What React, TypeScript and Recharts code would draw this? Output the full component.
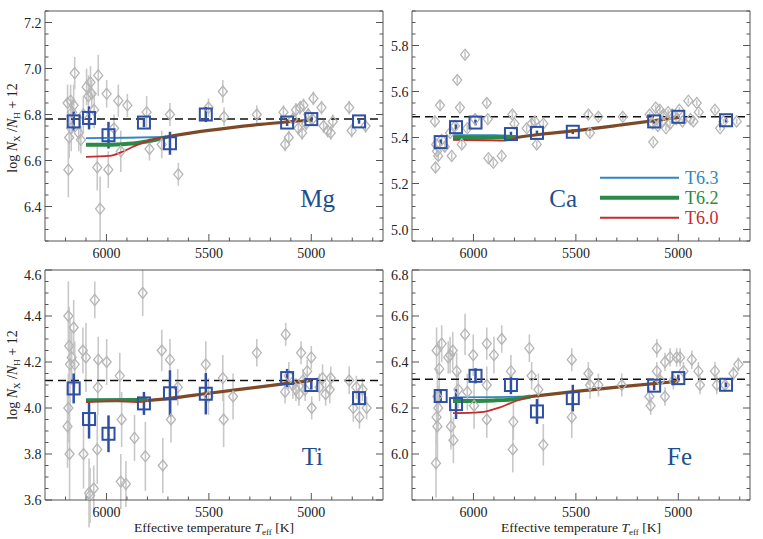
import React from "react";
import {
  ComposedChart,
  Scatter,
  Line,
  XAxis,
  YAxis,
  ErrorBar,
  ReferenceLine,
} from "recharts";

const SERIF = "Liberation Serif, Times New Roman, serif";
const INK = "#222";
const FRAME = "#555";
const STAR = "#b5b5b5";
const STAR_ERR = "#c8c8c8";
const MEAN = "#2f4fa3";
const C63 = "#2f86c0";
const C62 = "#2a8a48";
const C60 = "#c42b2b";
const CMIX = "#7d4a28";
const LABEL = "#1d4f8e";

const X_DOMAIN: [number, number] = [4650, 6300];
const xTicks = [6000, 5500, 5000];

// mean Teff of the stellar groups (blue squares)
const clusterTeff = [6160, 6085, 5990, 5817, 5690, 5515, 5118, 5000, 4767];

// ---- Mg ----
const mgTicks = [6.4, 6.6, 6.8, 7.0, 7.2];
const mgSolar = 6.78;
const mgMean = [6.77, 6.785, 6.71, 6.765, 6.675, 6.8, 6.765, 6.78, 6.77];
const mgMeanErr = [0.043, 0.05, 0.058, 0.02, 0.05, 0.033, 0.015, 0.012, 0.01];
const mgStars = [
  [6190, 6.85, 0.08], [6182, 6.7, 0.09], [6186, 6.56, 0.12], [6175, 6.86, 0.07],
  [6168, 6.81, 0.06], [6172, 6.74, 0.1], [6155, 6.98, 0.07], [6160, 6.84, 0.09],
  [6135, 6.72, 0.08], [6125, 6.69, 0.06], [6113, 6.8, 0.08], [6097, 6.92, 0.08],
  [6088, 6.88, 0.09], [6078, 6.94, 0.07], [6072, 6.89, 0.06], [6060, 6.82, 0.08],
  [6040, 6.97, 0.09], [6045, 6.57, 0.1], [6031, 6.39, 0.14], [5999, 6.89, 0.06],
  [5991, 6.56, 0.08], [5963, 6.74, 0.06], [5942, 6.86, 0.07], [5930, 6.64, 0.09],
  [5898, 6.84, 0.05], [5804, 6.81, 0.07], [5790, 6.65, 0.05], [5730, 6.67, 0.06],
  [5690, 6.8, 0.05], [5649, 6.54, 0.05], [5502, 6.83, 0.04], [5432, 6.9, 0.05],
  [5426, 6.79, 0.04], [5266, 6.8, 0.04], [5136, 6.81, 0.03], [5128, 6.67, 0.03],
  [5110, 6.7, 0.03], [5090, 6.78, 0.03], [5075, 6.82, 0.03], [5063, 6.74, 0.03],
  [5055, 6.83, 0.03], [5045, 6.72, 0.03], [5038, 6.84, 0.03], [5025, 6.76, 0.03],
  [5015, 6.8, 0.03], [4990, 6.87, 0.03], [4995, 6.78, 0.03], [4950, 6.83, 0.03],
  [4940, 6.75, 0.03], [4920, 6.73, 0.03], [4905, 6.72, 0.03], [4895, 6.77, 0.03],
  [4815, 6.83, 0.03], [4803, 6.73, 0.03], [4735, 6.75, 0.03],
];
const mgT63 = [[6100, 6.697], [5900, 6.699], [5705, 6.703]];
const mgT62 = [[6100, 6.668], [5950, 6.67], [5850, 6.676], [5760, 6.69], [5705, 6.703]];
const mgT60 = [[6100, 6.616], [5985, 6.62], [5930, 6.635], [5870, 6.66], [5787, 6.689], [5705, 6.703]];
const mgCool = [[5705, 6.703], [5500, 6.731], [5250, 6.757], [5000, 6.776]];

// ---- Ca ----
const caTicks = [5.0, 5.2, 5.4, 5.6, 5.8];
const caSolar = 5.49;
const caMean = [5.38, 5.445, 5.465, 5.415, 5.42, 5.425, 5.47, 5.49, 5.475];
const caMeanErr = [0.012, 0.012, 0.012, 0.01, 0.01, 0.01, 0.01, 0.01, 0.01];
const caStars = [
  [6188, 5.47, 0.02], [6182, 5.37, 0.02], [6178, 5.34, 0.02], [6172, 5.32, 0.02],
  [6185, 5.27, 0.02], [6163, 5.54, 0.02], [6155, 5.39, 0.02], [6140, 5.36, 0.02],
  [6114, 5.42, 0.015], [6106, 5.32, 0.015], [6090, 5.45, 0.015], [6079, 5.65, 0.015],
  [6066, 5.53, 0.015], [6057, 5.37, 0.015], [6041, 5.76, 0.015], [6030, 5.44, 0.015],
  [5992, 5.48, 0.015], [5935, 5.55, 0.015], [5930, 5.48, 0.015], [5927, 5.31, 0.015],
  [5903, 5.29, 0.015], [5862, 5.32, 0.015], [5810, 5.5, 0.015], [5800, 5.46, 0.015],
  [5740, 5.44, 0.015], [5716, 5.46, 0.015], [5700, 5.47, 0.015], [5691, 5.37, 0.015],
  [5659, 5.46, 0.015], [5439, 5.5, 0.015], [5431, 5.42, 0.015], [5390, 5.49, 0.015],
  [5271, 5.49, 0.015], [5140, 5.5, 0.012], [5125, 5.46, 0.012], [5122, 5.38, 0.012],
  [5110, 5.53, 0.012], [5100, 5.45, 0.012], [5090, 5.52, 0.012], [5080, 5.47, 0.012],
  [5073, 5.5, 0.012], [5060, 5.44, 0.012], [5050, 5.51, 0.012], [5040, 5.46, 0.012],
  [5030, 5.5, 0.012], [5010, 5.48, 0.012], [4995, 5.52, 0.012], [4980, 5.47, 0.012],
  [4951, 5.56, 0.012], [4940, 5.48, 0.012], [4926, 5.47, 0.012], [4910, 5.55, 0.012],
  [4900, 5.51, 0.012], [4821, 5.52, 0.012], [4796, 5.44, 0.012], [4780, 5.47, 0.012],
  [4715, 5.47, 0.012],
];
const caT63 = [[6100, 5.41], [5900, 5.41], [5790, 5.406]];
const caT62 = [[6100, 5.398], [5900, 5.4], [5790, 5.401]];
const caT60 = [[6100, 5.39], [5950, 5.388], [5850, 5.386], [5790, 5.398]];
const caCool = [[5790, 5.4], [5690, 5.412], [5500, 5.43], [5250, 5.458], [5000, 5.487]];

// ---- Ti ----
const tiTicks = [3.6, 3.8, 4.0, 4.2, 4.4, 4.6];
const tiSolar = 4.12;
const tiMean = [4.085, 3.952, 3.888, 4.02, 4.064, 4.062, 4.13, 4.1, 4.043];
const tiMeanErr = [0.065, 0.085, 0.08, 0.05, 0.1, 0.09, 0.04, 0.02, 0.03];
const tiStars = [
  [6186, 4.4, 0.15], [6182, 4.27, 0.17], [6178, 4.19, 0.2], [6186, 4.0, 0.15],
  [6190, 3.92, 0.18], [6180, 3.8, 0.2], [6170, 4.22, 0.12], [6160, 4.35, 0.12],
  [6155, 4.19, 0.1], [6115, 4.25, 0.1], [6100, 4.22, 0.15], [6112, 3.8, 0.15],
  [6085, 3.63, 0.15], [6080, 3.62, 0.12], [6062, 3.65, 0.1], [6057, 4.47, 0.08],
  [6040, 4.21, 0.1], [6042, 4.09, 0.12], [6045, 3.82, 0.15], [5999, 4.2, 0.1],
  [5935, 4.14, 0.1], [5926, 3.95, 0.12], [5930, 3.68, 0.12], [5905, 3.67, 0.1],
  [5863, 3.87, 0.1], [5823, 4.5, 0.1], [5810, 3.79, 0.15], [5730, 4.25, 0.09],
  [5725, 3.75, 0.12], [5690, 4.21, 0.09], [5685, 3.95, 0.1], [5652, 4.09, 0.08],
  [5515, 4.19, 0.1], [5502, 4.05, 0.08], [5432, 4.13, 0.1], [5428, 3.95, 0.12],
  [5382, 4.05, 0.1], [5266, 4.24, 0.06], [5125, 4.32, 0.05], [5128, 4.07, 0.05],
  [5110, 4.14, 0.06], [5090, 4.1, 0.06], [5075, 4.08, 0.05], [5060, 4.06, 0.05],
  [5050, 4.24, 0.05], [5040, 4.12, 0.05], [5030, 4.08, 0.05], [5020, 4.16, 0.05],
  [5000, 4.22, 0.05], [4998, 4.0, 0.05], [4960, 4.09, 0.06], [4945, 4.13, 0.06],
  [4930, 4.06, 0.05], [4910, 4.08, 0.06], [4905, 4.13, 0.05], [4815, 4.12, 0.06],
  [4795, 4.0, 0.06], [4780, 4.09, 0.05], [4765, 3.96, 0.05], [4750, 4.08, 0.05],
  [4730, 4.0, 0.05],
];
const tiT63 = [[6100, 4.037], [5950, 4.038], [5800, 4.04]];
const tiT62 = [[6100, 4.033], [5950, 4.034], [5800, 4.036]];
const tiT60 = [[6100, 4.026], [5950, 4.03], [5850, 4.026], [5800, 4.03]];
const tiCool = [[5800, 4.032], [5690, 4.042], [5500, 4.064], [5250, 4.092], [5000, 4.12]];

// ---- Fe ----
const feTicks = [6.0, 6.2, 6.4, 6.6, 6.8];
const feSolar = 6.325;
const feMean = [6.252, 6.217, 6.34, 6.3, 6.185, 6.243, 6.297, 6.33, 6.301];
const feMeanErr = [0.03, 0.065, 0.033, 0.04, 0.054, 0.058, 0.02, 0.015, 0.01];
const feStars = [
  [6180, 6.45, 0.1], [6167, 6.37, 0.12], [6155, 6.48, 0.08], [6176, 6.25, 0.12],
  [6180, 6.16, 0.12], [6176, 6.12, 0.15], [6183, 5.96, 0.15], [6172, 6.2, 0.1],
  [6123, 6.42, 0.07], [6114, 6.43, 0.08], [6101, 6.45, 0.08], [6110, 6.12, 0.1],
  [6098, 6.06, 0.1], [6082, 6.36, 0.08], [6074, 6.28, 0.08], [6041, 6.52, 0.09],
  [6030, 6.27, 0.08], [6001, 6.43, 0.09], [5997, 6.21, 0.1], [5935, 6.48, 0.07],
  [5935, 6.3, 0.08], [5935, 6.15, 0.08], [5900, 6.43, 0.08], [5862, 6.5, 0.06],
  [5817, 6.36, 0.07], [5808, 6.02, 0.1], [5805, 6.14, 0.08], [5727, 6.46, 0.06],
  [5716, 6.34, 0.06], [5683, 6.28, 0.07], [5659, 6.04, 0.09], [5520, 6.41, 0.05],
  [5520, 6.16, 0.09], [5439, 6.35, 0.05], [5431, 6.3, 0.06], [5390, 6.3, 0.05],
  [5276, 6.3, 0.05], [5141, 6.25, 0.04], [5135, 6.21, 0.04], [5105, 6.46, 0.04],
  [5105, 6.36, 0.04], [5089, 6.32, 0.04], [5065, 6.25, 0.04], [5065, 6.4, 0.04],
  [5040, 6.42, 0.04], [5024, 6.32, 0.04], [5008, 6.42, 0.04], [4991, 6.42, 0.04],
  [4975, 6.36, 0.04], [4934, 6.41, 0.04], [4902, 6.36, 0.04], [4894, 6.3, 0.04],
  [4821, 6.36, 0.04], [4812, 6.3, 0.04], [4772, 6.3, 0.03], [4731, 6.35, 0.03],
  [4707, 6.39, 0.03],
];
const feT63 = [[6100, 6.246], [5900, 6.247], [5720, 6.25]];
const feT62 = [[6100, 6.23], [5900, 6.233], [5800, 6.238], [5720, 6.25]];
const feT60 = [[6100, 6.178], [6000, 6.18], [5950, 6.183], [5870, 6.203], [5805, 6.226], [5720, 6.25]];
const feCool = [[5720, 6.25], [5500, 6.272], [5250, 6.295], [5000, 6.316]];

const steps = (a: number, b: number, s: number) => {
  const out: number[] = [];
  for (let i = 0; a + i * s <= b + 1e-9; i++) out.push(Math.round((a + i * s) * 1000) / 1000);
  return out;
};
const xMinor = steps(4700, 6200, 100);
const has = (list: number[], v: number) => list.some((u) => Math.abs(u - v) < 1e-6);

const txt = { fontFamily: SERIF, fill: INK };

// tick renderer that draws inward box ticks (major / minor) and the labels on the labelled sides
const xTick = (side: "bottom" | "top") => (props: any) => {
  const { x, y, payload } = props;
  const v = payload.value as number;
  const major = has(xTicks, v);
  const dir = side === "bottom" ? -1 : 1;
  return (
    <g>
      <line x1={x} x2={x} y1={y} y2={y + dir * (major ? 7 : 3.5)} stroke={FRAME} />
      {side === "bottom" && major && (
        <text x={x} y={y + 17} textAnchor="middle" fontSize={14} style={txt} {...txt}>
          {v}
        </text>
      )}
    </g>
  );
};

const yTick = (side: "left" | "right", labels: number[], top: number) => (props: any) => {
  const { x, y, payload } = props;
  const v = payload.value as number;
  const major = has(labels, v);
  const dir = side === "left" ? 1 : -1;
  const shift = Math.abs(v - top) < 1e-6 ? 5 : 0;
  return (
    <g>
      <line x1={x} x2={x + dir * (major ? 7 : 3.5)} y1={y} y2={y} stroke={FRAME} />
      {side === "left" && major && (
        <text x={x - 3.5} y={y + 5 + shift} textAnchor="end" fontSize={14} style={txt} {...txt}>
          {v.toFixed(1)}
        </text>
      )}
    </g>
  );
};

const Diamond = (p: any) => {
  const { cx, cy } = p;
  if (cx == null || cy == null) return null;
  return (
    <polygon
      points={`${cx},${cy - 5.5} ${cx + 4.5},${cy} ${cx},${cy + 5.5} ${cx - 4.5},${cy}`}
      fill="none"
      stroke={STAR}
      strokeWidth={1.3}
    />
  );
};

const Square = (p: any) => {
  const { cx, cy } = p;
  if (cx == null || cy == null) return null;
  return <rect x={cx - 6} y={cy - 6} width={12} height={12} fill="none" stroke={MEAN} strokeWidth={2} />;
};

const YTitle = ({ x, y }: { x: number; y: number }) => (
  <text transform={`rotate(-90 ${x} ${y})`} x={x} y={y} textAnchor="middle" fontSize={14} style={txt} {...txt}>
    {"log "}
    <tspan fontStyle="italic">N</tspan>
    <tspan fontSize={9} dy={3}>X</tspan>
    <tspan dy={-3}>{" /"}</tspan>
    <tspan fontStyle="italic">N</tspan>
    <tspan fontSize={9} dy={3}>H</tspan>
    <tspan dy={-3}>{" + 12"}</tspan>
  </text>
);

const XTitle = ({ x, y }: { x: number; y: number }) => (
  <text x={x} y={y} textAnchor="middle" fontSize={13.5} style={txt} {...txt}>
    {"Effective temperature "}
    <tspan fontStyle="italic">T</tspan>
    <tspan fontSize={9} dy={3}>eff</tspan>
    <tspan dy={-3}>{" [K]"}</tspan>
  </text>
);

const Element = ({ x, y, name }: { x: number; y: number; name: string }) => (
  <text x={x} y={y} textAnchor="end" fontSize={25} style={{ fontFamily: SERIF }} fontFamily={SERIF} fill={LABEL}>
    {name}
  </text>
);

const ModelLegend = ({ x, y }: { x: number; y: number }) => {
  const rows = [
    { name: "T6.3", color: C63, w: 2 },
    { name: "T6.2", color: C62, w: 4 },
    { name: "T6.0", color: C60, w: 2 },
  ];
  return (
    <g>
      {rows.map((r, i) => (
        <g key={r.name}>
          <line x1={x} x2={x + 79} y1={y + i * 20} y2={y + i * 20} stroke={r.color} strokeWidth={r.w} />
          <text x={x + 85} y={y + i * 20 + 6} fontSize={18} style={{ fontFamily: SERIF }} fontFamily={SERIF} fill={r.color}>
            {r.name}
          </text>
        </g>
      ))}
    </g>
  );
};

type PanelProps = {
  left: number;
  top: number;
  width: number;
  height: number;
  yAxisWidth: number;
  marginTop: number;
  marginRight: number;
  xAxisHeight: number;
  yDomain: [number, number];
  yTicks: number[];
  stars: number[][];
  mean: number[];
  meanErr: number[];
  solar: number;
  t63: number[][];
  t62: number[][];
  t60: number[][];
  cool: number[][];
  children?: React.ReactNode;
};

function Panel(p: PanelProps) {
  const stars = p.stars.map(([t, v, e]) => ({ t, v, e }));
  const means = clusterTeff.map((t, i) => ({ t, v: p.mean[i], e: p.meanErr[i] }));
  const pts = (arr: number[][]) => arr.map(([t, v]) => ({ t, v }));
  const yMinor = steps(p.yDomain[0], p.yDomain[1], 0.05);
  const model = (data: number[][], color: string, w: number) => (
    <Line
      data={pts(data)}
      dataKey="v"
      type="monotone"
      stroke={color}
      strokeWidth={w}
      dot={false}
      activeDot={false}
      isAnimationActive={false}
    />
  );
  return (
    <div style={{ position: "absolute", left: p.left, top: p.top }}>
      <ComposedChart
        width={p.width}
        height={p.height}
        margin={{ top: p.marginTop, right: p.marginRight, bottom: 0, left: 0 }}
      >
        <XAxis
          dataKey="t"
          type="number"
          domain={X_DOMAIN}
          reversed
          allowDataOverflow
          ticks={xMinor}
          interval={0}
          tickLine={false}
          tickSize={0}
          tickMargin={0}
          stroke={FRAME}
          height={p.xAxisHeight}
          tick={xTick("bottom")}
        />
        <YAxis
          dataKey="v"
          type="number"
          domain={p.yDomain}
          allowDataOverflow
          ticks={yMinor}
          interval={0}
          tickLine={false}
          tickSize={0}
          tickMargin={0}
          stroke={FRAME}
          width={p.yAxisWidth}
          tick={yTick("left", p.yTicks, p.yDomain[1])}
        />
        <XAxis
          xAxisId="top"
          orientation="top"
          mirror
          height={1}
          type="number"
          domain={X_DOMAIN}
          reversed
          allowDataOverflow
          ticks={xMinor}
          interval={0}
          tickLine={false}
          tickSize={0}
          tickMargin={0}
          stroke={FRAME}
          tick={xTick("top")}
        />
        <YAxis
          yAxisId="right"
          orientation="right"
          mirror
          width={1}
          type="number"
          domain={p.yDomain}
          allowDataOverflow
          ticks={yMinor}
          interval={0}
          tickLine={false}
          tickSize={0}
          tickMargin={0}
          stroke={FRAME}
          tick={yTick("right", p.yTicks, p.yDomain[1])}
        />

        <Scatter data={stars} shape={Diamond} isAnimationActive={false}>
          <ErrorBar dataKey="e" direction="y" width={0} stroke={STAR_ERR} strokeWidth={1.6} />
        </Scatter>
        <ReferenceLine y={p.solar} stroke="#111" strokeDasharray="8 5" strokeWidth={1.5} />
        <Scatter data={means} shape={Square} isAnimationActive={false}>
          <ErrorBar dataKey="e" direction="y" width={0} stroke={MEAN} strokeWidth={2.5} />
        </Scatter>
        {model(p.t63, C63, 1.8)}
        {model(p.t62, C62, 4)}
        {model(p.t60, C60, 1.8)}
        {model(p.cool, CMIX, 3.2)}
        {p.children}
      </ComposedChart>
    </div>
  );
}

export default function App() {
  return (
    <div style={{ position: "absolute", left: 0, top: 0, width: 763, height: 539, background: "#fff" }}>
      <Panel
        left={0} top={0} width={390} height={262}
        yAxisWidth={45} marginTop={11} marginRight={7} xAxisHeight={21}
        yDomain={[6.25, 7.25]} yTicks={mgTicks}
        stars={mgStars} mean={mgMean} meanErr={mgMeanErr} solar={mgSolar}
        t63={mgT63} t62={mgT62} t60={mgT60} cool={mgCool}
      >
        <YTitle x={17} y={128} />
        <Element x={335} y={207} name="Mg" />
      </Panel>
      <Panel
        left={390} top={0} width={373} height={262}
        yAxisWidth={22} marginTop={11} marginRight={13} xAxisHeight={21}
        yDomain={[4.95, 5.95]} yTicks={caTicks}
        stars={caStars} mean={caMean} meanErr={caMeanErr} solar={caSolar}
        t63={caT63} t62={caT62} t60={caT60} cool={caCool}
      >
        <Element x={187} y={207} name="Ca" />
        <ModelLegend x={210} y={177.7} />
      </Panel>
      <Panel
        left={0} top={262} width={390} height={277}
        yAxisWidth={45} marginTop={8} marginRight={7} xAxisHeight={39}
        yDomain={[3.6, 4.6]} yTicks={tiTicks}
        stars={tiStars} mean={tiMean} meanErr={tiMeanErr} solar={tiSolar}
        t63={tiT63} t62={tiT62} t60={tiT60} cool={tiCool}
      >
        <YTitle x={17} y={113} />
        <Element x={323} y={203} name="Ti" />
        <XTitle x={214} y={270} />
      </Panel>
      <Panel
        left={390} top={262} width={373} height={277}
        yAxisWidth={22} marginTop={8} marginRight={13} xAxisHeight={39}
        yDomain={[5.8, 6.8]} yTicks={feTicks}
        stars={feStars} mean={feMean} meanErr={feMeanErr} solar={feSolar}
        t63={feT63} t62={feT62} t60={feT60} cool={feCool}
      >
        <Element x={302} y={203} name="Fe" />
        <XTitle x={191} y={270} />
      </Panel>
    </div>
  );
}
